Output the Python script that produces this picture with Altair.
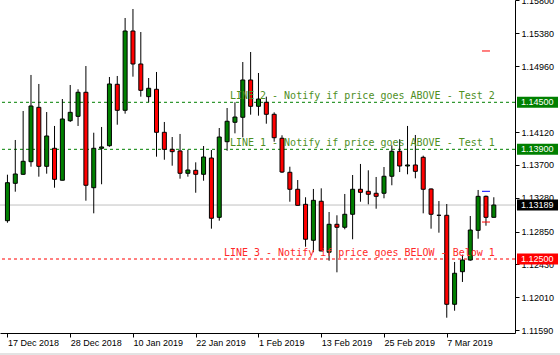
import json
import altair as alt
import pandas as pd

# ---- candle data (EURUSD daily) ----
highs = [1.13576, 1.14019, 1.14389, 1.14849, 1.14734, 1.14376, 1.14198, 1.14542, 1.14721, 1.14666,
         1.14963, 1.14112, 1.14185, 1.14823, 1.14836, 1.15576, 1.15691, 1.15397, 1.14810, 1.14887,
         1.14249, 1.14057, 1.14096, 1.13895, 1.13734, 1.13942, 1.13891, 1.14172, 1.14427, 1.14500,
         1.15014, 1.15142, 1.14874, 1.14572, 1.14372, 1.14079, 1.13678, 1.13508, 1.13288, 1.13394,
         1.13402, 1.13100, 1.13058, 1.13330, 1.13572, 1.13713, 1.13632, 1.13547, 1.13674, 1.13951,
         1.14028, 1.14198, 1.14083, 1.13819, 1.13400, 1.13240, 1.13202, 1.12462, 1.12555, 1.13049,
         1.13381, 1.13310, 1.13288]
opens = [1.12989, 1.13466, 1.13581, 1.13742, 1.14436, 1.13683, 1.13913, 1.13505, 1.14265, 1.14321,
         1.14628, 1.13410, 1.13913, 1.13946, 1.14730, 1.14398, 1.15410, 1.14989, 1.14572, 1.14666,
         1.14117, 1.13900, 1.13879, 1.13594, 1.13632, 1.13581, 1.13789, 1.13032, 1.13997, 1.14245,
         1.14309, 1.14785, 1.14449, 1.14500, 1.14347, 1.14041, 1.13607, 1.13390, 1.13198, 1.12739,
         1.13237, 1.12586, 1.12943, 1.12905, 1.13071, 1.13390, 1.13364, 1.13339, 1.13339, 1.13556,
         1.13875, 1.13687, 1.13700, 1.13798, 1.13394, 1.13058, 1.13058, 1.11922, 1.12338, 1.12487,
         1.12866, 1.13300, 1.13032]
closes = [1.13474, 1.13585, 1.13747, 1.14453, 1.13683, 1.14070, 1.13517, 1.14287, 1.14372, 1.14628,
          1.13441, 1.13913, 1.13930, 1.14734, 1.14398, 1.15410, 1.14989, 1.14653, 1.14679, 1.14117,
          1.13900, 1.13870, 1.13594, 1.13636, 1.13581, 1.13802, 1.13020, 1.14057, 1.14258, 1.14312,
          1.14785, 1.14449, 1.14542, 1.14347, 1.14048, 1.13610, 1.13390, 1.13185, 1.12752, 1.13249,
          1.12602, 1.12943, 1.12905, 1.13071, 1.13390, 1.13351, 1.13326, 1.13300, 1.13556, 1.13875,
          1.13687, 1.13700, 1.13619, 1.13390, 1.13071, 1.13058, 1.11922, 1.12318, 1.12487, 1.12870,
          1.13300, 1.13032, 1.13189]
lows = [1.12963, 1.13359, 1.13575, 1.13678, 1.13551, 1.13589, 1.13410, 1.13505, 1.14249, 1.14198,
        1.13244, 1.13083, 1.13454, 1.13933, 1.14214, 1.14355, 1.14827, 1.14572, 1.14500, 1.13806,
        1.13767, 1.13691, 1.13525, 1.13551, 1.13346, 1.13499, 1.12887, 1.12989, 1.13882, 1.14104,
        1.14053, 1.14342, 1.14329, 1.14227, 1.13997, 1.13598, 1.13231, 1.13185, 1.12657, 1.12586,
        1.12602, 1.12478, 1.12330, 1.12879, 1.12752, 1.13231, 1.13198, 1.13142, 1.13275, 1.13441,
        1.13610, 1.13581, 1.13530, 1.13083, 1.12887, 1.12836, 1.11751, 1.11840, 1.12207, 1.12478,
        1.12759, 1.12925, 1.13032]

date_tick_idx = [0, 8, 16, 24, 32, 40, 48, 56]
date_labels = ["17 Dec 2018", "28 Dec 2018", "10 Jan 2019", "22 Jan 2019",
               "1 Feb 2019", "13 Feb 2019", "25 Feb 2019", "7 Mar 2019"]

price_ticks = [1.1580, 1.1538, 1.1496, 1.1412, 1.1370, 1.1328, 1.1285, 1.1243, 1.1201, 1.1159]

level_prices = [1.14500, 1.13900, 1.12500]
level_colors = ["#008000", "#008000", "#ff0000"]
level_text_colors = ["#4f8f1f", "#4f8f1f", "#ff2a2a"]
level_texts = ["LINE 2 - Notify if price goes ABOVE - Test 2",
               "LINE 1 - Notify if price goes ABOVE - Test 1",
               "LINE 3 - Notify if price goes BELOW - Below 1"]

bid_price = 1.13189

box_prices = [1.14500, 1.13900, 1.13189, 1.12500]
box_colors = ["#008000", "#008000", "#000000", "#ff0000"]

marker_idx = [61, 61, 61]
marker_prices = [1.15155, 1.13364, 1.12972]
marker_colors = ["#ff0000", "#0000ff", "#ff0000"]

# ---- frames ----
n = len(opens)
candles = pd.DataFrame({"i": list(range(n)), "o": opens, "h": highs, "l": lows, "c": closes})
candles["fill"] = ["#008000" if c >= o else "#ff0000" for o, c in zip(opens, closes)]

levels = pd.DataFrame({"p": level_prices, "col": level_colors, "tcol": level_text_colors,
                       "txt": level_texts, "i": [n - 1] * 3})
boxes = pd.DataFrame({"p": box_prices, "col": box_colors,
                      "txt": [f"{v:.5f}" for v in box_prices]})
bid = pd.DataFrame({"p": [bid_price], "i": [0]})
markers = pd.DataFrame({"i": marker_idx, "p": marker_prices, "col": marker_colors})

xscale = alt.Scale(domain=[-0.3125, 64.0625], nice=False, zero=False)
yscale = alt.Scale(domain=[1.115556, 1.158057], nice=False, zero=False)

label_expr = json.dumps(date_labels) + "[round(datum.value / 8)]"

xaxis = alt.Axis(values=date_tick_idx, labelExpr=label_expr, orient="bottom", grid=False,
                 title=None, tickSize=4, tickColor="black", domainColor="black",
                 labelAlign="left", labelBaseline="top", labelPadding=1, labelColor="black",
                 labelFont="Liberation Sans", labelFontSize=9, labelFlush=False,
                 labelOverlap=False, labelBound=False)
yaxis = alt.Axis(values=price_ticks, format=".5f", orient="right", grid=False, title=None,
                 tickSize=4, tickColor="black", domainColor="black", labelPadding=2,
                 labelColor="black", labelFont="Liberation Sans", labelFontSize=9,
                 labelOverlap=False, labelBound=False, labelFlush=False)


def X(field):
    return alt.X(field, type="quantitative", scale=xscale, axis=xaxis)


def Y(field):
    return alt.Y(field, type="quantitative", scale=yscale, axis=yaxis)


base = alt.Chart(candles)

wicks = base.mark_rule(color="black", strokeWidth=1).encode(
    x=X("i"), y=Y("l"), y2="h:Q",
)

bodies = base.mark_bar(size=4, stroke="black", strokeWidth=1).encode(
    x=X("i"), y=Y("o"), y2="c:Q",
    fill=alt.Fill("fill:N", scale=None),
)

bid_line = alt.Chart(bid).mark_rule(color="#c0c0c0", strokeWidth=1).encode(
    y=Y("p"),
)

level_lines = alt.Chart(levels).mark_rule(strokeWidth=1, strokeDash=[3, 3]).encode(
    y=Y("p"),
    color=alt.Color("col:N", scale=None),
)

level_labels = alt.Chart(levels).mark_text(
    align="right", baseline="alphabetic", dx=1, dy=-3,
    font="DejaVu Sans Mono", fontSize=10,
).encode(
    x=X("i"), y=Y("p"),
    text="txt:N",
    color=alt.Color("tcol:N", scale=None),
)

marker_ticks = alt.Chart(markers).mark_tick(orient="horizontal", size=8, thickness=1, opacity=1).encode(
    x=X("i"), y=Y("p"),
    color=alt.Color("col:N", scale=None),
)

box_rects = alt.Chart(boxes).mark_tick(orient="horizontal", size=41, thickness=11, opacity=1).encode(
    x=alt.value(537.5),
    y=Y("p"),
    color=alt.Color("col:N", scale=None),
)

box_text = alt.Chart(boxes).mark_text(
    align="left", baseline="middle", font="Liberation Sans", fontSize=9, color="white",
).encode(
    x=alt.value(521),
    y=Y("p"),
    text="txt:N",
)

frame = alt.Chart(bid).mark_rule(color="#e3e3e3", strokeWidth=2).encode(
    x=alt.value(0), x2=alt.value(560), y=alt.value(354),
)

chart = alt.layer(
    bid_line, level_lines, wicks, bodies, marker_ticks, level_labels, box_rects, box_text, frame
).properties(
    width=515, height=333,
    autosize=alt.AutoSizeParams(type="none"),
    padding={"left": 0, "top": 0, "right": 45, "bottom": 22},
    background="white",
).configure_view(stroke=None)

chart.save("out.html", embed_options={"renderer": "svg", "actions": False})
